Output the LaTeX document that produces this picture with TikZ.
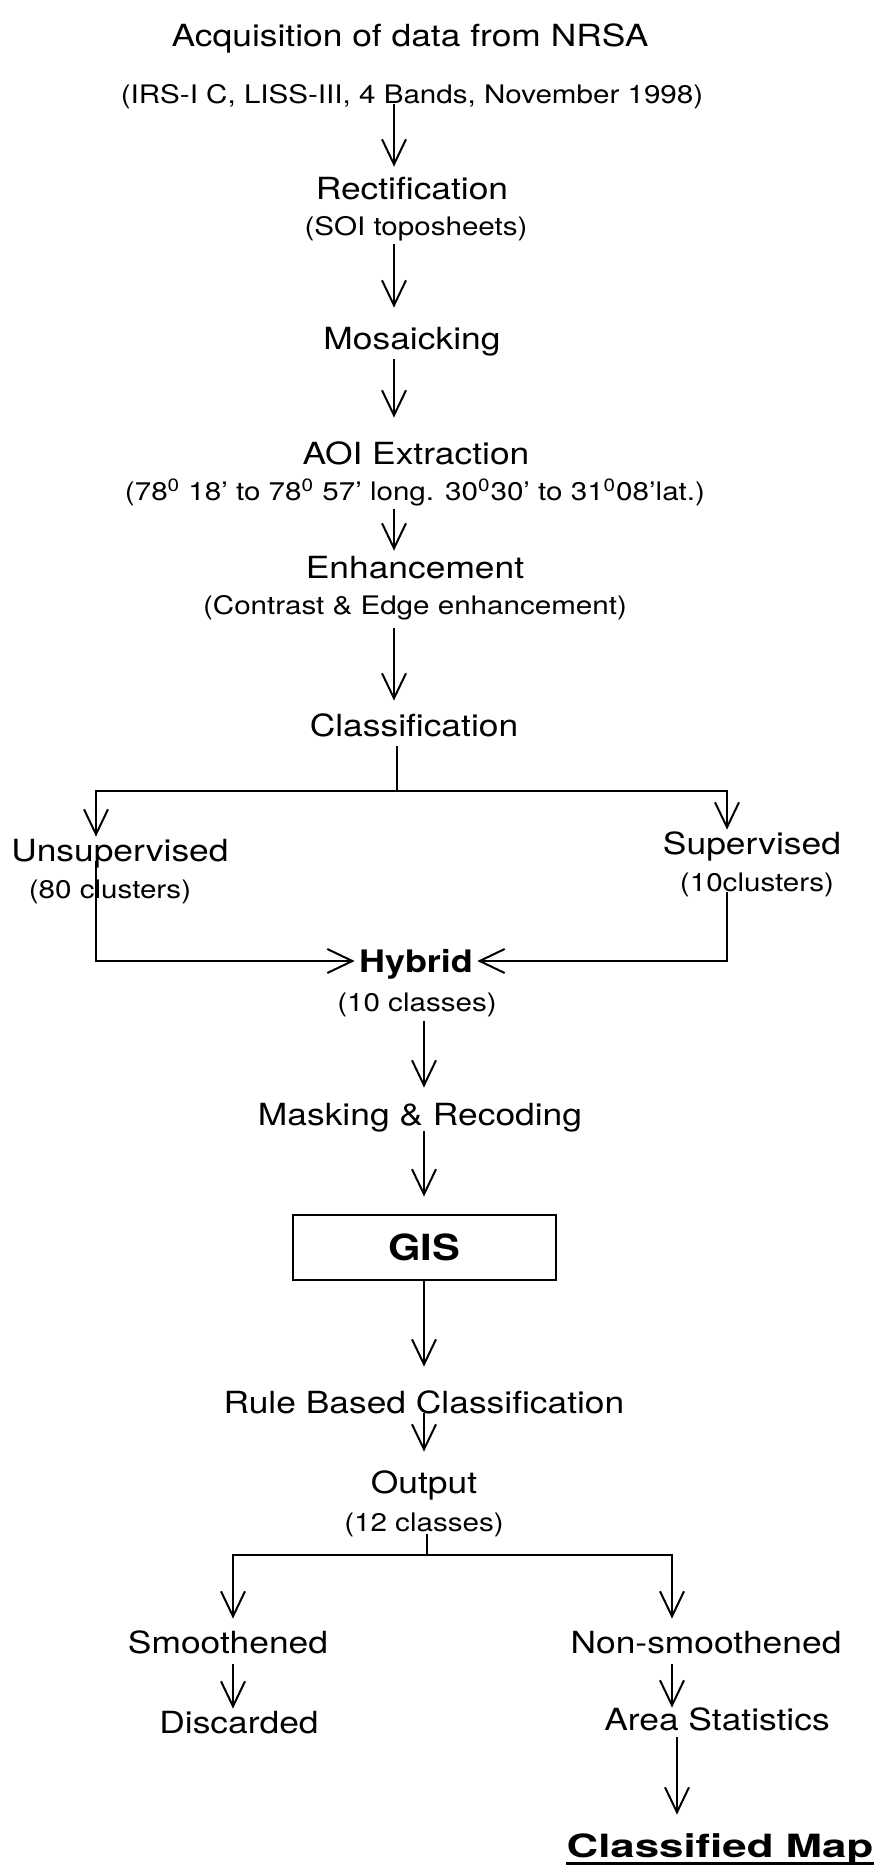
\documentclass[tikz,border=0pt]{standalone}
\usepackage{fontspec}
\setmainfont{TeX Gyre Heros}[FakeStretch=1.16]
\usepackage{tikz}
\usetikzlibrary{arrows.meta,calc}
\tikzset{
  head/.style = {font=\fontsize{15.25}{18}\selectfont, text height=11pt, text depth=0pt, inner sep=0pt},
  note/.style = {font=\fontsize{12.75}{15}\selectfont, text height=9.2pt, text depth=0pt, inner sep=0pt},
  flow/.style = {line width=1pt, -{Straight Barb[length=12.5pt,width=12pt]}},
  link/.style = {line width=1pt}
}

\begin{document}
\begin{tikzpicture}[x=0.5pt,y=-0.5pt]
\useasboundingbox (0,0) rectangle (875,1868);

\coordinate (colA) at (394,0);
\coordinate (colB) at (424,0);
\coordinate (lx) at (96,0);
\coordinate (rx) at (727,0);
\coordinate (lx2) at (233,0);
\coordinate (rx2) at (672,0);
\coordinate (rx3) at (677,0);
\coordinate (splitA) at (397,791);
\coordinate (splitB) at (427,1555);

\node[head] (title) at (410,36) {Acquisition of data from NRSA};
\node[note] (sub1) at (412,94) {(IRS-I C, LISS-III, 4 Bands, November 1998)};
\node[head] (rect) at (412,188) {Rectification};
\node[note] (soi) at (416,226) {(SOI toposheets)};
\node[head] (mos) at (412,338) {Mosaicking};
\node[head] (aoi) at (416,453) {AOI Extraction};
\node[note] (coord) at (415,491) {(78\textsuperscript{0} 18' to 78\textsuperscript{0} 57' long. 30\textsuperscript{0}30' to 31\textsuperscript{0}08'lat.)};
\node[head] (enh) at (415,567) {Enhancement};
\node[note] (cont) at (415,605) {(Contrast \& Edge enhancement)};
\node[head] (cls) at (414,725) {Classification};
\node[head] (unsup) at (120,850) {Unsupervised};
\node[note] (c80) at (110,889) {(80 clusters)};
\node[head] (sup) at (752,843) {Supervised};
\node[note] (c10) at (757,882) {(10clusters)};
\node[head, font=\bfseries\fontsize{15.5}{18}\selectfont, inner xsep=2pt] (hyb) at (416,961) {Hybrid};
\node[note] (c10c) at (417,1002) {(10 classes)};
\node[head] (mask) at (420,1114) {Masking \& Recoding};
\node[draw, line width=1pt, minimum width=131.5pt, minimum height=32.5pt,
      font=\bfseries\fontsize{18}{20}\selectfont] (gis) at (424,1247) {GIS};
\node[head] (rule) at (424,1402) {Rule Based Classification};
\node[head] (out) at (424,1482) {Output};
\node[note] (c12) at (424,1522) {(12 classes)};
\node[head] (smo) at (228,1642) {Smoothened};
\node[head] (nons) at (706,1642) {Non-smoothened};
\node[head] (disc) at (239,1722) {Discarded};
\node[head] (area) at (717,1719) {Area Statistics};
\node[head, font=\bfseries\fontsize{16}{18}\selectfont] (map) at (720,1846) {\scalebox{1.18}[1]{Classified Map}};

\foreach \a/\b/\s/\e in {sub1/rect/0pt/5pt, soi/mos/4pt/9.5pt, mos/aoi/5pt/12pt,
                         coord/enh/4pt/2.5pt, cont/cls/6.5pt/6.5pt}
  \draw[flow, shorten <=\s, shorten >=\e] (\a.south -| colA) -- (\b.north -| colA);

\draw[link, shorten <=5pt] (cls.south -| splitA) -- (splitA);
\draw[flow, shorten >=1pt] (splitA) -| (unsup.north -| lx);
\draw[flow, shorten >=1pt] (splitA) -| (sup.north -| rx);
\draw[flow] (unsup.south -| lx) |- (hyb.west);
\draw[flow] (c10.south -| rx) |- (hyb.east);

\foreach \a/\b/\s/\e in {c10c/mask/4.5pt/7.5pt, mask/gis/3pt/8.5pt,
                         gis/rule/0pt/12pt, rule/out/0pt/9.5pt}
  \draw[flow, shorten <=\s, shorten >=\e] (\a.south -| colB) -- (\b.north -| colB);

\draw[link, shorten <=1pt] (c12.south -| splitB) -- (splitB);
\draw[flow, shorten >=6pt] (splitB) -| (smo.north -| lx2);
\draw[flow, shorten >=6pt] (splitB) -| (nons.north -| rx2);
\draw[flow, shorten <=5.5pt, shorten >=1pt] (smo.south -| lx2) -- (disc.north -| lx2);
\draw[flow, shorten <=5.5pt] (nons.south -| rx2) -- (area.north -| rx2);
\draw[flow, shorten <=3.5pt, shorten >=10pt] (area.south -| rx3) -- (map.north -| rx3);

\draw[line width=1.4pt] ([yshift=-3pt]map.south west) -- ([yshift=-3pt]map.south east);

\end{tikzpicture}
\end{document}
